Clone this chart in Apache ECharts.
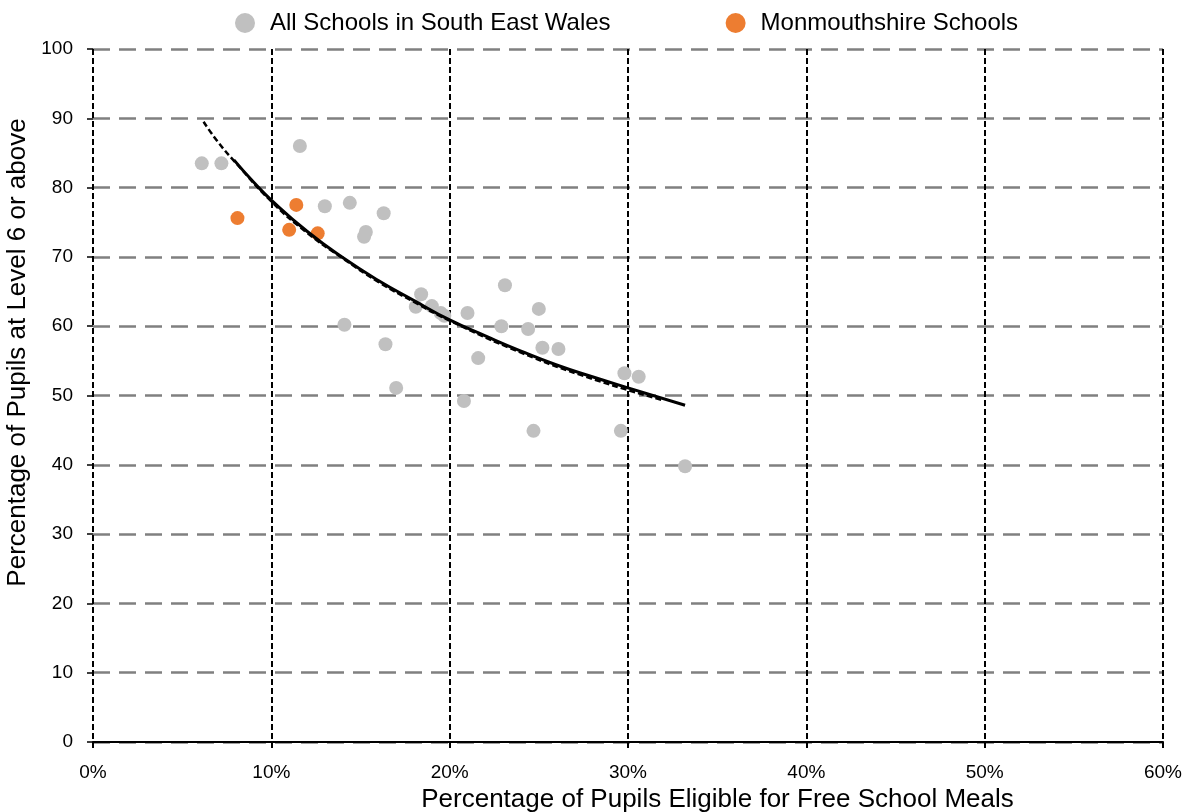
<!DOCTYPE html>
<html>
<head>
<meta charset="utf-8">
<script src="https://cdn.jsdelivr.net/npm/echarts@6/dist/echarts.min.js"></script>
<style>
  html, body { margin: 0; padding: 0; background: #fff; }
  #chart { width: 1193px; height: 812px; }
</style>
</head>
<body>
<div id="chart"></div>
<script>
// all schools (x = % FSM, y = % level 6+)
var allSchools = [
  [6.1, 83.5], [7.2, 83.5], [11.6, 86.0], [13.0, 77.3], [14.4, 77.8],
  [16.3, 76.3], [15.3, 73.6], [15.2, 72.9], [14.1, 60.2], [16.4, 57.4],
  [17.0, 51.1], [18.1, 62.8], [18.4, 64.6], [19.0, 62.9], [19.5, 61.9],
  [19.7, 61.5], [21.0, 61.9], [20.8, 49.2], [21.6, 55.4], [22.9, 60.0],
  [23.1, 65.9], [24.4, 59.6], [25.0, 62.5], [25.2, 56.9], [26.1, 56.7],
  [24.7, 44.9], [29.8, 53.2], [30.6, 52.7], [29.6, 44.9], [33.2, 39.8]
];
var monSchools = [
  [8.1, 75.6], [11.0, 73.9], [11.4, 77.5], [12.6, 73.4]
];
// trend lines
var trendSolid = [
  [7.9, 84.0], [9, 80.8], [10, 78.2], [12, 73.7], [14, 69.9], [16, 66.6],
  [18, 63.7], [20, 60.9], [22, 58.6], [24, 56.4], [26, 54.4], [28, 52.7],
  [30, 51.1], [33.2, 48.6]
];
var trendDashed = [
  [6.2, 89.5], [7, 86.6], [8, 83.6], [10, 78.0], [12, 73.5], [14, 69.8],
  [16, 66.4], [18, 63.5], [20, 60.8], [24, 56.2], [28, 52.4], [32, 49.3]
];

var myChart = echarts.init(document.getElementById('chart'));
var font = 'Liberation Sans, Arial, sans-serif';

var option = {
  animation: false,
  textStyle: { fontFamily: font },
  legend: {
    top: 6,
    left: 230,
    itemGap: 115,
    itemWidth: 20,
    itemHeight: 20,
    textStyle: { fontSize: 24, color: '#000', fontFamily: font, padding: [0, 0, 0, 10] },
    data: [
      { name: 'All Schools in South East Wales', icon: 'circle' },
      { name: 'Monmouthshire Schools', icon: 'circle' }
    ]
  },
  grid: { left: 93, right: 30, top: 49, bottom: 70, outerBoundsMode: 'none' },
  xAxis: {
    type: 'value',
    min: 0, max: 60, interval: 10,
    name: 'Percentage of Pupils Eligible for Free School Meals',
    nameLocation: 'middle',
    nameGap: 38,
    nameTextStyle: { fontSize: 26, color: '#000', fontFamily: font, padding: [0, 0, 0, 179] },
    axisLine: { lineStyle: { color: '#000', width: 2 } },
    axisTick: { show: true, length: 6, lineStyle: { color: '#000', width: 2 } },
    axisLabel: { formatter: '{value}%', fontSize: 19, color: '#000', margin: 21 },
    splitLine: { show: true, lineStyle: { color: '#000', width: 2, type: [6, 3] } }
  },
  yAxis: {
    type: 'value',
    min: 0, max: 100, interval: 10,
    name: 'Percentage of Pupils at Level 6 or above',
    nameLocation: 'middle',
    nameGap: 57,
    nameTextStyle: { fontSize: 26, color: '#000', fontFamily: font, padding: [0, 0, 0, 86] },
    axisLine: { show: false },
    axisTick: { show: true, length: 6, lineStyle: { color: '#000', width: 1.5 } },
    axisLabel: { fontSize: 19, color: '#000', margin: 20 },
    splitLine: { show: true, lineStyle: { color: '#808080', width: 2.5, type: [17, 9] } }
  },
  series: [
    {
      name: 'All Schools in South East Wales',
      type: 'scatter',
      symbolSize: 14,
      itemStyle: { color: '#c0c0c0', opacity: 1 },
      data: allSchools,
      z: 3
    },
    {
      name: 'Monmouthshire Schools',
      type: 'scatter',
      symbolSize: 14,
      itemStyle: { color: '#ed7d31', opacity: 1 },
      data: monSchools,
      z: 4
    },
    {
      name: 'trend dashed',
      type: 'line',
      smooth: true,
      showSymbol: false,
      lineStyle: { color: '#000', width: 2.5, type: [6, 3] },
      data: trendDashed,
      z: 5
    },
    {
      name: 'trend',
      type: 'line',
      smooth: true,
      showSymbol: false,
      lineStyle: { color: '#000', width: 3 },
      data: trendSolid,
      z: 5
    }
  ]
};
myChart.setOption(option);
window.addEventListener('resize', function () {
  myChart.resize();
});
</script>
</body>
</html>
